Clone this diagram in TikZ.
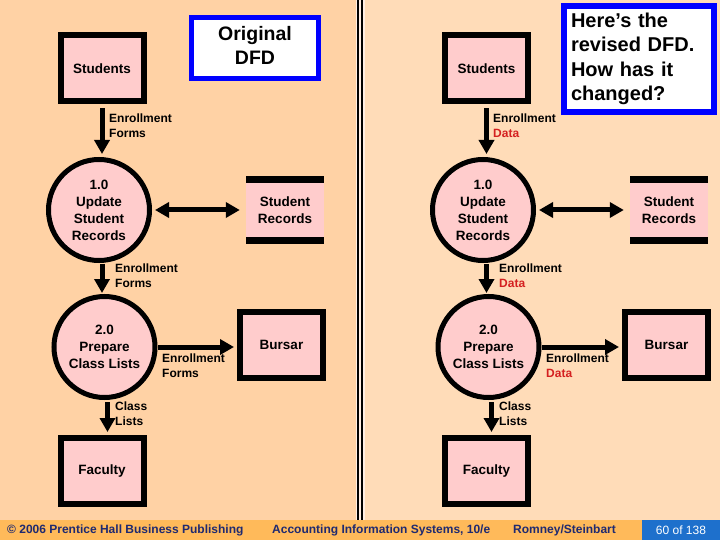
\documentclass[tikz,border=0pt]{standalone}
\usepackage{fontspec}
\setmainfont{Liberation Sans}
\usetikzlibrary{arrows.meta,calc}
\definecolor{bgL}{HTML}{FFD2A5}
\definecolor{bgR}{HTML}{FFDCB8}
\definecolor{pale}{HTML}{FFEEE4}
\definecolor{pinkf}{HTML}{FFCCCC}
\definecolor{boxblue}{HTML}{0000FF}
\definecolor{foot}{HTML}{FFBA5A}
\definecolor{footblue}{HTML}{1E70CC}
\definecolor{foottext}{HTML}{1F2A70}
\definecolor{datared}{HTML}{D42020}
\begin{document}
\begin{tikzpicture}[x=1pt,y=-1pt,
  ext/.style={draw=black,line width=6pt,fill=pinkf,minimum width=83pt,minimum height=66pt,inner sep=0pt,font=\bfseries\fontsize{13.5}{17}\selectfont},
  proc/.style={circle,draw=black,line width=5pt,fill=pinkf,minimum size=101pt,inner sep=0pt,align=center,font=\bfseries\fontsize{13.5}{17}\selectfont},
  store/.style={fill=pinkf,minimum width=78pt,minimum height=66pt,inner sep=0pt,align=center,font=\bfseries\fontsize{13.5}{17}\selectfont,
    path picture={\draw[line width=12pt] (path picture bounding box.north west) -- (path picture bounding box.north east)
      (path picture bounding box.south west) -- (path picture bounding box.south east);}},
  flow/.style={line width=5pt,-{Triangle[length=14pt,width=15pt]}},
  flowb/.style={line width=5pt,{Triangle[length=14pt,width=15pt]}-{Triangle[length=14pt,width=15pt]}},
  lab/.style={anchor=west,align=left,inner sep=0pt,font=\bfseries\fontsize{12}{15}\selectfont},
  foottxt/.style={anchor=west,inner sep=0pt,text=foottext,font=\bfseries\fontsize{12}{14}\selectfont},
  callout/.style={draw=boxblue,fill=white,inner sep=0pt}
]
\useasboundingbox (0,0) rectangle (720,540);
% backgrounds
\fill[bgL] (0,0) rectangle (359,520);
\fill[bgR] (359,0) rectangle (720,520);
\fill[pale] (355.5,0) rectangle (364.5,520);
\draw[line width=2.3pt] (357.8,0) -- (357.8,520);
\draw[line width=2.3pt] (361.8,0) -- (361.8,520);
% footer
\fill[foot] (0,520) rectangle (720,540);
\fill[footblue] (642,520) rectangle (720,540);
\node[foottxt] (f1) at (7,530) {© 2006 Prentice Hall Business Publishing};
\node[foottxt] (f2) at (272,530) {Accounting Information Systems, 10/e};
\node[foottxt] (f3) at (513,530) {Romney/Steinbart};
\node[inner sep=0pt,text=white,font=\fontsize{12}{14}\selectfont] (f4) at (681,530) {60 of 138};

% ---------- left: original DFD ----------
\node[ext] (stuL) at (102,68.5) {Students};
\node[callout,line width=5pt,minimum width=127pt,minimum height=61pt,align=center,text depth=6pt,font=\bfseries\fontsize{19.5}{24}\selectfont] (origL) at (255,48) {Original\\DFD};
\node[proc] (p1L) at (99,210) {1.0\\Update\\Student\\Records};
\node[store] (srL) at (285,210) {Student\\Records};
\node[proc] (p2L) at (104.5,347) {2.0\\Prepare\\Class Lists};
\node[ext] (burL) at (281.5,345) {Bursar};
\node[ext] (facL) at (102,471) {Faculty};

\draw[flow,shorten <=4pt,shorten >=3pt] (stuL.south) -- (stuL.south |- p1L.north);
\draw[flowb,shorten <=3pt,shorten >=6pt] (p1L.east) -- (srL.west);
\draw[flow,shorten <=1pt,shorten >=1pt] (p1L.south -| stuL.south) -- (p2L.north -| stuL.south);
\draw[flow,shorten >=3pt] (p2L.east) -- (p2L.east -| burL.west);
\draw[flow,shorten <=2pt,shorten >=3pt] ([xshift=3pt]p2L.south) -- ([xshift=3pt]p2L.south |- facL.north);

\node[lab] (l1L) at (109,125.5) {Enrollment\\Forms};
\node[lab] (l2L) at (115,275.5) {Enrollment\\Forms};
\node[lab] (l3L) at (162,365.5) {Enrollment\\Forms};
\node[lab] (l4L) at (115,414) {Class\\Lists};

% ---------- right: revised DFD ----------
\node[ext] (stuR) at (486.5,68.5) {Students};
\node[callout,line width=6pt,minimum width=150pt,minimum height=106pt,text width=136pt,inner xsep=7pt,align=left,font=\bfseries\fontsize{20}{24.3}\selectfont] (revR) at (639,59) {Here’s the revised DFD. How has it changed?};
\node[proc] (p1R) at (483,210) {1.0\\Update\\Student\\Records};
\node[store] (srR) at (669,210) {Student\\Records};
\node[proc] (p2R) at (488.5,347) {2.0\\Prepare\\Class Lists};
\node[ext] (burR) at (666.5,345) {Bursar};
\node[ext] (facR) at (486.5,471) {Faculty};

\draw[flow,shorten <=4pt,shorten >=3pt] (stuR.south) -- (stuR.south |- p1R.north);
\draw[flowb,shorten <=3pt,shorten >=6pt] (p1R.east) -- (srR.west);
\draw[flow,shorten <=1pt,shorten >=1pt] (p1R.south -| stuR.south) -- (p2R.north -| stuR.south);
\draw[flow,shorten >=3pt] (p2R.east) -- (p2R.east -| burR.west);
\draw[flow,shorten <=2pt,shorten >=3pt] ([xshift=3pt]p2R.south) -- ([xshift=3pt]p2R.south |- facR.north);

\node[lab] (l1R) at (493,125.5) {Enrollment\\\textcolor{datared}{Data}};
\node[lab] (l2R) at (499,275.5) {Enrollment\\\textcolor{datared}{Data}};
\node[lab] (l3R) at (546,365.5) {Enrollment\\\textcolor{datared}{Data}};
\node[lab] (l4R) at (499,414) {Class\\Lists};
\end{tikzpicture}
\end{document}
